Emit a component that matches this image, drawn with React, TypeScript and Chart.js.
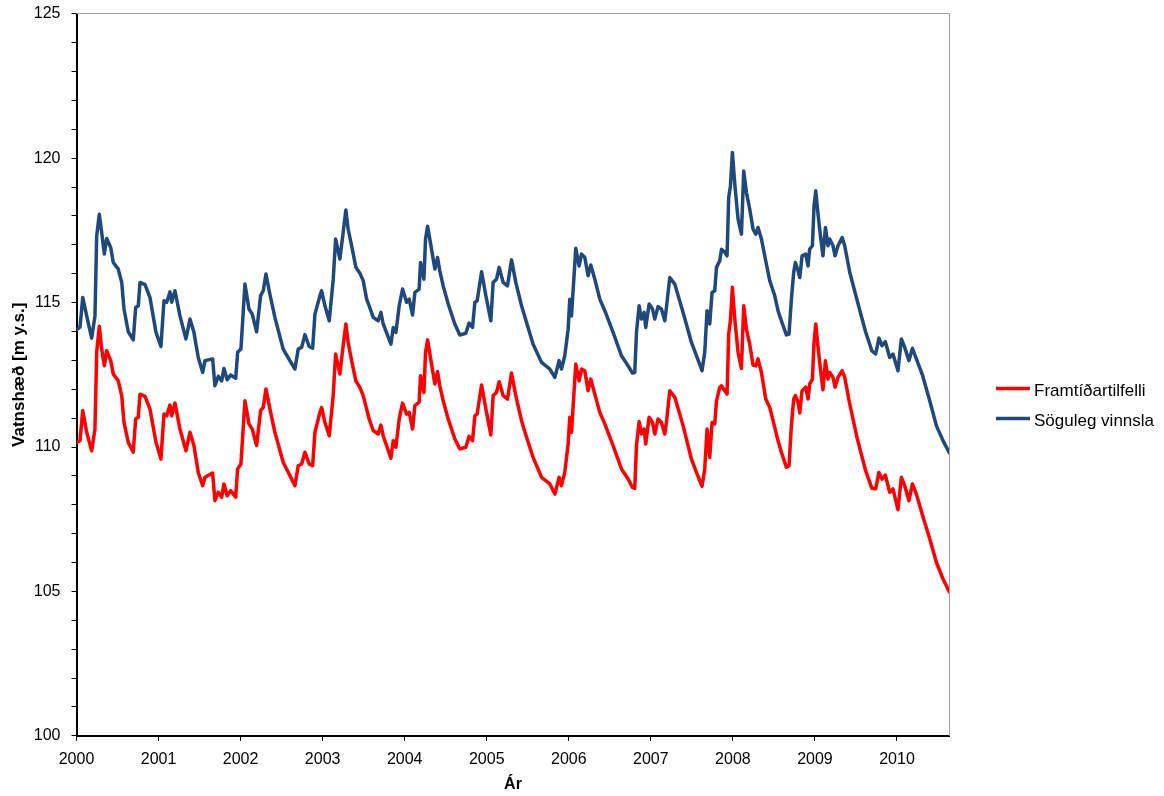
import React, { useEffect, useRef } from 'react';
import { Chart, registerables } from 'chart.js';

Chart.register(...registerables);

// ---- data ----
const seriesNames = ['Framtíðartilfelli', 'Söguleg vinnsla'];

const dates = [
  2000.000, 2000.043, 2000.076, 2000.124, 2000.185, 2000.225, 2000.246, 2000.278, 2000.307, 2000.339, 2000.368, 2000.417, 2000.448, 2000.509, 2000.551, 2000.579, 2000.631, 2000.692, 2000.721, 2000.753, 2000.774, 2000.835, 2000.895, 2000.969,
  2001.029, 2001.066, 2001.099, 2001.139, 2001.160, 2001.200, 2001.261, 2001.334, 2001.383, 2001.431, 2001.484, 2001.538, 2001.566, 2001.659, 2001.687, 2001.728, 2001.769, 2001.797, 2001.837, 2001.879, 2001.940, 2001.964,
  2002.004, 2002.053, 2002.102, 2002.142, 2002.195, 2002.244, 2002.276, 2002.309, 2002.357, 2002.418, 2002.519, 2002.601, 2002.662, 2002.702, 2002.744, 2002.784, 2002.836, 2002.878, 2002.906, 2002.967, 2002.987,
  2003.028, 2003.080, 2003.129, 2003.158, 2003.210, 2003.250, 2003.283, 2003.311, 2003.353, 2003.405, 2003.454, 2003.494, 2003.536, 2003.567, 2003.616, 2003.677, 2003.710, 2003.738, 2003.832, 2003.860, 2003.893, 2003.933, 2003.974,
  2004.023, 2004.055, 2004.096, 2004.124, 2004.176, 2004.193, 2004.234, 2004.254, 2004.279, 2004.327, 2004.368, 2004.400, 2004.428, 2004.469, 2004.530, 2004.611, 2004.672, 2004.745, 2004.785, 2004.827, 2004.855, 2004.883, 2004.937, 2004.989,
  2005.050, 2005.078, 2005.119, 2005.151, 2005.200, 2005.253, 2005.302, 2005.354, 2005.424, 2005.485, 2005.565, 2005.668, 2005.769, 2005.830, 2005.882, 2005.911, 2005.951, 2005.992,
  2006.012, 2006.033, 2006.085, 2006.126, 2006.155, 2006.195, 2006.235, 2006.268, 2006.317, 2006.378, 2006.439, 2006.540, 2006.642, 2006.723, 2006.776, 2006.804, 2006.825, 2006.857, 2006.886, 2006.918, 2006.938, 2006.979,
  2007.020, 2007.048, 2007.088, 2007.129, 2007.170, 2007.190, 2007.231, 2007.292, 2007.393, 2007.495, 2007.556, 2007.624, 2007.657, 2007.685, 2007.718, 2007.746, 2007.779, 2007.800, 2007.840, 2007.861, 2007.901, 2007.929, 2007.949, 2007.970, 2007.994,
  2008.023, 2008.063, 2008.104, 2008.132, 2008.165, 2008.205, 2008.246, 2008.279, 2008.306, 2008.348, 2008.400, 2008.449, 2008.510, 2008.550, 2008.591, 2008.652, 2008.684, 2008.713, 2008.741, 2008.762, 2008.794, 2008.815, 2008.843, 2008.888, 2008.916, 2008.936, 2008.969, 2008.989,
  2009.010, 2009.038, 2009.067, 2009.098, 2009.128, 2009.159, 2009.180, 2009.220, 2009.245, 2009.281, 2009.332, 2009.363, 2009.424, 2009.515, 2009.616, 2009.694, 2009.740, 2009.780, 2009.817, 2009.858, 2009.911, 2009.951,
  2010.012, 2010.053, 2010.094, 2010.146, 2010.188, 2010.236, 2010.313, 2010.399, 2010.480, 2010.561, 2010.640,
];

// Framtíðartilfelli (red)
const futureCase = [
  110.16, 110.22, 111.26, 110.51, 109.87, 110.62, 113.28, 114.18, 113.39, 112.81, 113.33, 112.99, 112.53, 112.29, 111.78, 110.85, 110.16, 109.82, 110.97, 111.03, 111.83, 111.75, 111.32, 110.16,
  109.58, 111.14, 111.08, 111.45, 111.08, 111.52, 110.62, 109.87, 110.51, 110.05, 109.12, 108.66, 108.95, 109.10, 108.14, 108.43, 108.26, 108.72, 108.31, 108.49, 108.26, 109.24,
  109.41, 111.60, 110.80, 110.62, 110.05, 111.26, 111.37, 112.01, 111.32, 110.51, 109.47, 109.01, 108.66, 109.35, 109.41, 109.82, 109.41, 109.35, 110.51, 111.20, 111.37,
  110.85, 110.39, 111.78, 113.22, 112.53, 113.51, 114.26, 113.62, 112.99, 112.29, 112.06, 111.78, 111.32, 110.97, 110.57, 110.45, 110.76, 110.39, 109.61, 110.22, 109.99, 110.97, 111.52,
  111.14, 111.20, 110.62, 111.43, 111.55, 112.47, 111.89, 113.28, 113.71, 112.87, 112.18, 112.61, 112.12, 111.60, 110.97, 110.28, 109.93, 109.99, 110.37, 110.22, 111.08, 111.14, 112.15, 111.32,
  110.42, 111.78, 111.89, 112.26, 111.78, 111.66, 112.56, 111.78, 110.91, 110.34, 109.64, 108.95, 108.72, 108.37, 108.95, 108.66, 109.12, 110.10,
  111.03, 110.51, 112.87, 112.29, 112.70, 112.64, 111.95, 112.35, 111.83, 111.20, 110.80, 110.05, 109.24, 108.89, 108.60, 108.57, 110.05, 110.88, 110.45, 110.62, 110.10, 111.03,
  110.85, 110.45, 110.97, 110.85, 110.45, 110.85, 111.95, 111.72, 110.74, 109.58, 109.12, 108.64, 109.24, 110.62, 109.64, 110.85, 110.80, 111.60, 112.07, 112.12, 111.95, 111.83, 113.91, 114.37, 115.53,
  114.43, 113.28, 112.72, 114.89, 114.08, 113.56, 112.84, 112.81, 113.05, 112.58, 111.66, 111.37, 110.68, 110.22, 109.82, 109.30, 109.35, 110.74, 111.66, 111.78, 111.55, 111.18, 111.95, 112.07, 111.66, 112.18, 112.35, 113.62,
  114.26, 113.45, 112.70, 111.98, 112.99, 112.35, 112.58, 112.41, 112.07, 112.41, 112.64, 112.41, 111.49, 110.30, 109.20, 108.57, 108.55, 109.12, 108.89, 109.03, 108.43, 108.55,
  107.83, 108.95, 108.66, 108.14, 108.72, 108.37, 107.62, 106.82, 106.01, 105.43, 104.97,
];

// Söguleg vinnsla (blue)
const historical = [
  114.06, 114.15, 115.18, 114.54, 113.77, 114.54, 117.31, 118.06, 117.43, 116.68, 117.22, 116.91, 116.39, 116.16, 115.70, 114.78, 113.99, 113.71, 114.83, 114.89, 115.70, 115.62, 115.18, 113.97,
  113.48, 115.06, 115.01, 115.37, 115.01, 115.41, 114.54, 113.74, 114.43, 113.97, 113.10, 112.58, 112.99, 113.05, 112.12, 112.45, 112.29, 112.72, 112.33, 112.49, 112.38, 113.28,
  113.39, 115.64, 114.78, 114.60, 113.99, 115.24, 115.41, 115.99, 115.29, 114.49, 113.39, 112.99, 112.70, 113.39, 113.45, 113.89, 113.48, 113.42, 114.60, 115.24, 115.41,
  114.89, 114.37, 115.81, 117.20, 116.51, 117.43, 118.21, 117.54, 116.97, 116.22, 116.02, 115.76, 115.12, 114.89, 114.49, 114.37, 114.66, 114.26, 113.56, 114.14, 113.97, 114.89, 115.47,
  115.01, 115.12, 114.57, 115.35, 115.47, 116.39, 115.81, 117.20, 117.64, 116.85, 116.16, 116.56, 116.10, 115.58, 114.95, 114.26, 113.88, 113.94, 114.29, 114.14, 115.01, 115.06, 116.07, 115.24,
  114.37, 115.70, 115.81, 116.22, 115.70, 115.58, 116.48, 115.70, 114.89, 114.31, 113.56, 112.93, 112.70, 112.41, 112.99, 112.70, 113.16, 114.08,
  115.12, 114.54, 116.88, 116.27, 116.68, 116.56, 115.93, 116.30, 115.81, 115.12, 114.72, 113.97, 113.16, 112.81, 112.56, 112.58, 113.97, 114.89, 114.43, 114.66, 114.14, 114.95,
  114.78, 114.43, 114.86, 114.78, 114.37, 114.83, 115.87, 115.64, 114.66, 113.62, 113.16, 112.64, 113.28, 114.72, 114.26, 115.35, 115.41, 116.22, 116.45, 116.85, 116.74, 116.62, 118.64, 119.04, 120.20,
  119.10, 117.89, 117.37, 119.56, 118.81, 118.24, 117.54, 117.37, 117.60, 117.20, 116.45, 115.76, 115.24, 114.72, 114.37, 113.88, 113.91, 115.12, 116.05, 116.39, 116.10, 115.87, 116.62, 116.68, 116.27, 116.85, 116.97, 118.35,
  118.87, 118.06, 117.31, 116.62, 117.60, 116.97, 117.20, 116.97, 116.62, 116.97, 117.25, 116.97, 116.05, 115.07, 114.00, 113.33, 113.22, 113.77, 113.51, 113.65, 113.10, 113.22,
  112.64, 113.74, 113.45, 112.99, 113.42, 113.05, 112.47, 111.60, 110.74, 110.22, 109.79,
];

const yearTicks = [2000, 2001, 2002, 2003, 2004, 2005, 2006, 2007, 2008, 2009, 2010];
const levelTicks = [100, 101, 102, 103, 104, 105, 106, 107, 108, 109, 110, 111, 112, 113, 114, 115, 116, 117, 118, 119, 120, 121, 122, 123, 124, 125];
const xRange = [2000, 2010.64];
const yRange = [100, 125];
const axisTitles = { x: 'Ár', y: 'Vatnshæð [m y.s.]' };

// ---- styling ----
const FONT = "'Liberation Sans', Arial, Helvetica, sans-serif";
const W = 1148;
const H = 798;
const AREA_LEFT = 68.5;
const AREA_RIGHT = 941.5;
const AREA_BOTTOM = 737.8;
const COLORS = ['#FF0000', '#1F497D'];

const framePlugin = {
  id: 'frameLines',
  afterDatasetsDraw(chart: any) {
    const { ctx, chartArea: a } = chart;
    ctx.save();
    ctx.strokeStyle = '#a0a0a0';
    ctx.lineWidth = 1;
    ctx.beginPath();
    ctx.moveTo(a.left, Math.floor(a.top) + 0.5);
    ctx.lineTo(a.right, Math.floor(a.top) + 0.5);
    ctx.lineTo(a.right, a.bottom);
    ctx.stroke();
    ctx.restore();
  },
};

const legendPlugin = {
  id: 'sideLegend',
  afterDraw(chart: any) {
    const { ctx } = chart;
    const rows = [390.5, 420.5];
    ctx.save();
    chart.data.datasets.forEach((ds: any, i: number) => {
      const y = rows[i];
      ctx.strokeStyle = ds.borderColor;
      ctx.lineWidth = 3.5;
      ctx.beginPath();
      ctx.moveTo(988, y);
      ctx.lineTo(1022, y);
      ctx.stroke();
      ctx.fillStyle = '#000';
      ctx.font = `17px ${FONT}`;
      ctx.textBaseline = 'middle';
      ctx.textAlign = 'left';
      ctx.fillText(ds.label, 1026, y + 2.5);
    });
    ctx.restore();
  },
};

export default function App() {
  const ref = useRef<HTMLCanvasElement | null>(null);

  useEffect(() => {
    if (!ref.current) return;
    const chart = new Chart(ref.current, {
      type: 'line',
      data: {
        datasets: [
          {
            label: seriesNames[0],
            data: dates.map((x, i) => ({ x, y: futureCase[i] })),
            borderColor: COLORS[0],
            backgroundColor: COLORS[0],
            borderWidth: 3.5,
            borderJoinStyle: 'round',
            borderCapStyle: 'round',
            pointRadius: 0,
            tension: 0,
            fill: false,
          },
          {
            label: seriesNames[1],
            data: dates.map((x, i) => ({ x, y: historical[i] })),
            borderColor: COLORS[1],
            backgroundColor: COLORS[1],
            borderWidth: 3.5,
            borderJoinStyle: 'round',
            borderCapStyle: 'round',
            pointRadius: 0,
            tension: 0,
            fill: false,
          },
        ],
      },
      options: {
        responsive: false,
        animation: false,
        layout: { padding: { top: 0, left: 0, right: W - AREA_RIGHT, bottom: 0 } },
        plugins: { legend: { display: false }, tooltip: { enabled: false } },
        scales: {
          x: {
            type: 'linear',
            min: xRange[0],
            max: xRange[1],
            afterBuildTicks: (s: any) => {
              s.ticks = yearTicks.map((v) => ({ value: v }));
            },
            afterFit: (s: any) => {
              s.height = H - AREA_BOTTOM;
            },
            ticks: {
              autoSkip: false,
              maxRotation: 0,
              padding: 9,
              color: '#000',
              font: { size: 16, family: FONT },
              callback: (v: any) => String(v),
            },
            grid: { drawOnChartArea: false, drawTicks: true, tickLength: 5, tickColor: '#000', tickWidth: 1 },
            border: { display: true, color: '#000', width: 2 },
            title: {
              display: true,
              text: axisTitles.x,
              color: '#000',
              font: { size: 16, weight: 'bold', family: FONT },
              padding: { top: 0, bottom: 2 },
            },
          },
          y: {
            type: 'linear',
            min: yRange[0],
            max: yRange[1],
            afterBuildTicks: (s: any) => {
              s.ticks = levelTicks.map((v) => ({ value: v }));
            },
            afterFit: (s: any) => {
              s.width = AREA_LEFT;
            },
            ticks: {
              autoSkip: false,
              padding: 11,
              color: '#000',
              font: { size: 16, family: FONT, lineHeight: 0.6 },
              callback: (v: any) => (Number(v) % 5 === 0 ? String(v) : ''),
            },
            grid: { drawOnChartArea: false, drawTicks: true, tickLength: 5, tickColor: '#000', tickWidth: 1 },
            border: { display: true, color: '#000', width: 2 },
            title: {
              display: true,
              text: axisTitles.y,
              color: '#000',
              font: { size: 17, weight: 'bold', family: FONT },
              padding: { top: 1, bottom: 0 },
            },
          },
        },
      },
      plugins: [framePlugin, legendPlugin],
    } as any);
    return () => chart.destroy();
  }, []);

  return (
    <div style={{ position: 'absolute', left: 8, top: -2, width: W, height: H }}>
      <canvas ref={ref} width={W} height={H} style={{ display: 'block', width: W, height: H }} />
    </div>
  );
}
